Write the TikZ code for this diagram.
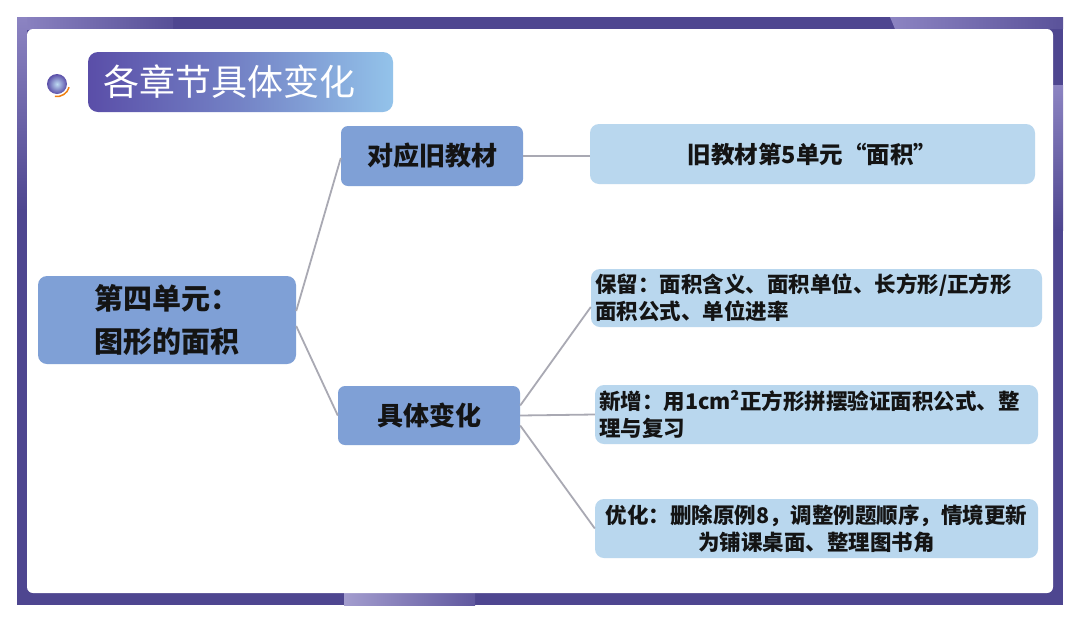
\documentclass[tikz,border=0pt]{standalone}
\usepackage{fontspec}
\newfontfamily\cjk{Noto Sans CJK SC}
\usetikzlibrary{shadings,calc}
\definecolor{framepurple}{HTML}{4E4690}
\definecolor{framelight}{HTML}{8C84C2}
\definecolor{midblue}{HTML}{7FA0D6}
\definecolor{lightblue}{HTML}{B9D7EE}
\definecolor{linegray}{HTML}{A9A9B3}
\definecolor{titleleft}{HTML}{5A4EA8}
\definecolor{titleright}{HTML}{93C3EA}
\definecolor{txt}{HTML}{141414}
\tikzset{
  midbox/.style={fill=midblue, rounded corners=7pt, inner sep=0pt, text=txt, font=\cjk\bfseries\fontsize{26}{32}\selectfont},
  rootbox/.style={fill=midblue, rounded corners=9pt, inner sep=0pt, text=txt, align=left, font=\cjk\bfseries\fontsize{29}{43}\selectfont},
  leafbox/.style={fill=lightblue, rounded corners=9pt, inner ysep=0pt, inner xsep=4pt, text=txt, font=\cjk\bfseries\fontsize{21.5}{27}\selectfont},
  conn/.style={draw=linegray, line width=1.8pt}
}
\begin{document}
\begin{tikzpicture}[x=1pt,y=-1pt]
\useasboundingbox (0,0) rectangle (1080,622);
\fill[white] (0,0) rectangle (1080,622);
% frame
\fill[framepurple] (17,17) rectangle (1063,605);
\shade[left color=framelight, right color=framepurple!85!framelight] (17,17) rectangle (173,29);
\shade[top color=framelight, bottom color=framepurple] (17,17) rectangle (27,210);
\shade[left color=framelight, right color=framepurple!80!framelight] (890,17) -- (1063,17) -- (1063,29) -- (895,29) -- cycle;
\shade[top color=framelight, bottom color=framepurple] (1053,85) rectangle (1063,230);
\shade[left color=framelight!80!white, right color=framepurple!70!framelight] (344,593) rectangle (475,605);
\fill[white, rounded corners=6pt] (27,29) rectangle (1053,593);
% title
\draw[orange!75!brown, line width=1.5pt] (57,84) ++(100:12.5) arc[start angle=100, end angle=15, radius=12.5];
\shade[inner color=titleright!60!white, outer color=titleleft] (57,84) circle[radius=10];
\shade[rounded corners=10pt, left color=titleleft, right color=titleright, middle color=titleleft!55!titleright] (88,52) rectangle (393,112);
\node[text=white, font=\cjk\fontsize{36}{42}\selectfont, anchor=west] (title) at (100,82) {各章节具体变化};
% nodes
\node[rootbox, minimum width=258pt, minimum height=88pt] (root) at (167,320) {第四单元：\\图形的面积};
\node[midbox, minimum width=182pt, minimum height=60pt] (old) at (432,156) {对应旧教材};
\node[midbox, minimum width=182pt, minimum height=59pt] (chg) at (429,415.5) {具体变化};
\node[leafbox, minimum width=445pt, minimum height=60pt, font=\cjk\bfseries\fontsize{23.5}{28}\selectfont] (oldd) at (812.5,154) {旧教材第5单元“面积”};
\node[leafbox, text width=443pt, minimum height=58pt, align=left] (k1) at (816.5,298) {保留：面积含义、面积单位、长方形/正方形\\面积公式、单位进率};
\node[leafbox, text width=435pt, minimum height=59pt, align=left] (k2) at (816.5,414.5) {新增：用1cm²正方形拼摆验证面积公式、整\\理与复习};
\node[leafbox, text width=435pt, minimum height=59pt, align=center] (k3) at (816.5,528.5) {优化：删除原例8，调整例题顺序，情境更新\\为铺课桌面、整理图书角};
% connectors
\draw[conn] ([yshift=9pt]root.east) -- ([yshift=-2pt]old.west);
\draw[conn] ([yshift=-6pt]root.east) -- (chg.west);
\draw[conn] (old.east) -- (old.east -| oldd.west);
\draw[conn] ([yshift=10pt]chg.east) -- ([yshift=-9pt]k1.west);
\draw[conn] (chg.east) -- (k2.west);
\draw[conn] ([yshift=-10pt]chg.east) -- (k3.west);
\end{tikzpicture}
\end{document}
